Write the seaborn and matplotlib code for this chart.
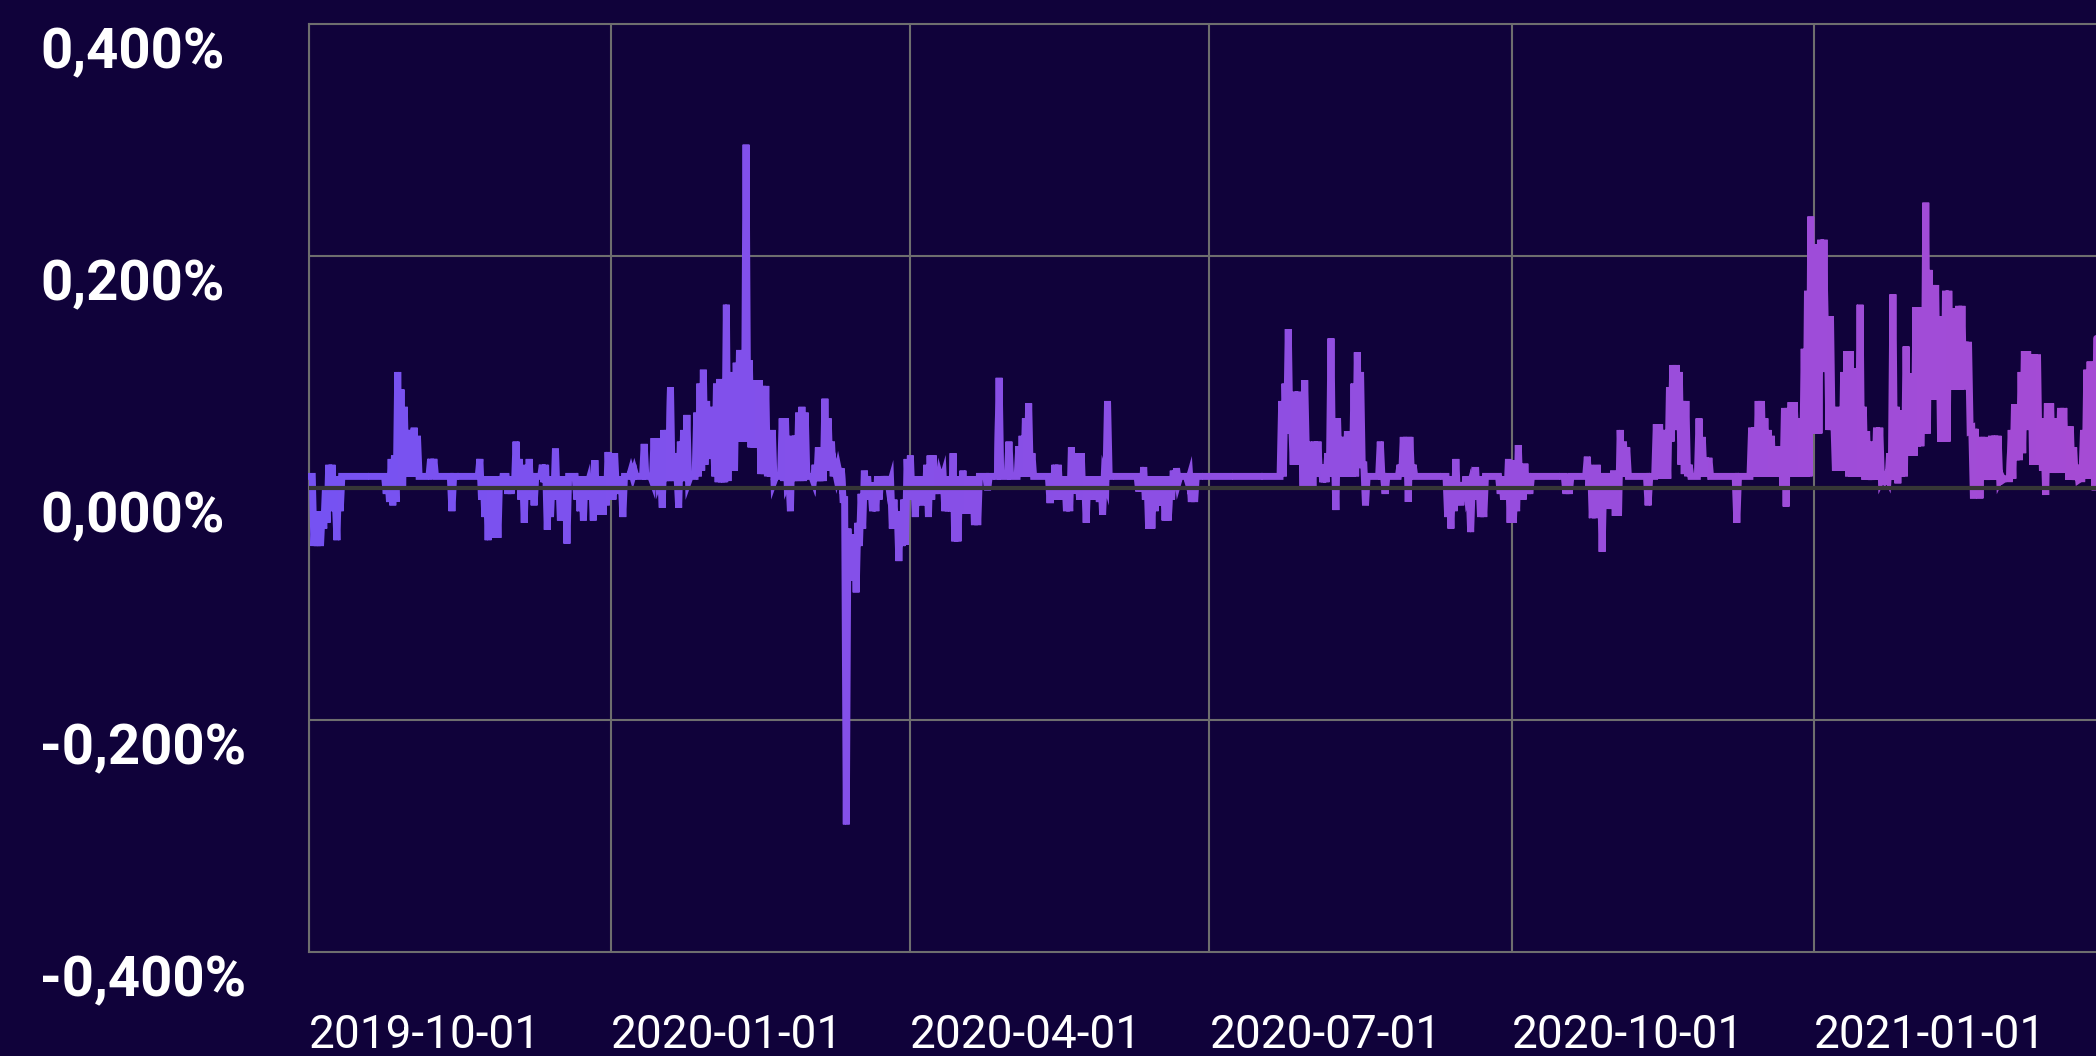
import pandas as pd
import matplotlib
matplotlib.use("Agg")
import matplotlib.pyplot as plt
import matplotlib.dates as mdates
import matplotlib.transforms as mtransforms
from matplotlib.patches import Rectangle
import matplotlib.colors as mcolors
import seaborn as sns

# daily high / low readings in %, one pair of lists per quarter
q4_2019_high = [
    0.01, 0.01, -0.02, -0.02, -0.02, 0.0, 0.02, 0.02, -0.01, 0.01,
    0.01, 0.01, 0.01, 0.01, 0.01, 0.01, 0.01, 0.01, 0.01, 0.01,
    0.01, 0.01, 0.01, 0.01, 0.01, 0.025, 0.028, 0.1, 0.085, 0.07,
    0.05, 0.05, 0.052, 0.045, 0.01, 0.01, 0.01, 0.025, 0.025, 0.01,
    0.01, 0.01, 0.01, 0.01, 0.01, 0.01, 0.01, 0.01, 0.01, 0.01,
    0.01, 0.01, 0.025, 0.01, 0.01, 0.01, 0.01, 0.0, 0.01, 0.01,
    0.01, 0.01, 0.01, 0.04, 0.025, 0.015, 0.02, 0.025, 0.01, 0.01,
    0.01, 0.02, 0.02, 0.01, 0.01, 0.034, 0.01, 0.005, 0.01, 0.01,
    0.01, 0.01, 0.01, 0.01, 0.01, 0.005, 0.01, 0.024, 0.01, 0.005,
    0.01, 0.031,
]
q4_2019_low = [
    0.01, -0.05, -0.05, -0.05, -0.035, -0.03, -0.02, -0.01, -0.045, -0.02,
    0.01, 0.01, 0.01, 0.01, 0.01, 0.01, 0.01, 0.01, 0.01, 0.01,
    0.01, 0.01, 0.01, -0.005, -0.012, -0.015, -0.012, 0.005, 0.0, 0.01,
    0.01, 0.01, 0.01, 0.01, 0.01, 0.01, 0.01, 0.01, 0.01, 0.01,
    0.01, 0.01, 0.01, -0.02, 0.01, 0.01, 0.01, 0.01, 0.01, 0.01,
    0.01, 0.01, -0.01, -0.025, -0.045, -0.01, -0.043, -0.043, 0.0, 0.01,
    -0.005, -0.005, 0.0, 0.0, -0.01, -0.03, -0.01, -0.005, -0.015, 0.01,
    0.01, 0.005, -0.036, -0.025, -0.01, -0.01, -0.028, -0.01, -0.048, 0.01,
    0.01, -0.01, -0.02, -0.028, 0.0, -0.01, -0.028, -0.01, -0.023, -0.023,
    -0.015, 0.0,
]
q1_2020_high = [
    0.03, 0.03, 0.01, 0.01, 0.01, 0.01, 0.015, 0.015, 0.01, 0.01,
    0.038, 0.01, 0.01, 0.043, 0.043, 0.01, 0.05, 0.05, 0.087, 0.03,
    0.01, 0.04, 0.05, 0.063, 0.01, 0.01, 0.065, 0.09, 0.102, 0.075,
    0.07, 0.05, 0.09, 0.094, 0.06, 0.158, 0.1, 0.06, 0.108, 0.119,
    0.11, 0.296, 0.11, 0.093, 0.093, 0.093, 0.088, 0.088, 0.02, 0.05,
    0.01, 0.01, 0.06, 0.06, 0.01, 0.045, 0.045, 0.065, 0.07, 0.065,
    0.01, 0.01, 0.02, 0.035, 0.03, 0.077, 0.06, 0.04, 0.017, 0.017,
    0.017, -0.01, -0.035, -0.04, -0.04, -0.03, -0.005, 0.015, 0.01, 0.0,
    0.005, 0.01, 0.01, 0.01, 0.01, 0.005, -0.01, -0.02, -0.02, -0.01,
    0.025,
]
q1_2020_low = [
    -0.01, 0.0, -0.005, -0.025, 0.01, 0.01, 0.01, 0.01, 0.01, 0.01,
    0.01, 0.01, 0.006, 0.006, 0.006, -0.017, 0.006, 0.006, 0.006, 0.01,
    -0.017, 0.006, 0.006, 0.006, 0.01, 0.01, 0.01, 0.015, 0.02, 0.025,
    0.026, 0.01, 0.005, 0.005, 0.005, 0.006, 0.015, 0.015, 0.04, 0.04,
    0.04, 0.05, 0.035, 0.035, 0.035, 0.012, 0.012, 0.01, 0.01, 0.006,
    0.01, 0.01, 0.006, 0.006, -0.02, 0.006, 0.006, 0.006, 0.006, 0.01,
    0.01, 0.006, 0.006, 0.006, 0.006, 0.015, 0.015, 0.01, 0.01, 0.01,
    -0.01, -0.29, -0.08, -0.06, -0.09, -0.05, -0.035, -0.01, -0.01, -0.02,
    -0.02, -0.01, 0.0, 0.0, 0.0, -0.035, -0.035, -0.063, -0.05, -0.049,
    -0.01,
]
q2_2020_high = [
    0.028, 0.01, 0.01, 0.01, 0.01, 0.02, 0.028, 0.028, 0.01, 0.01,
    0.01, 0.01, 0.01, 0.03, 0.01, 0.01, 0.015, 0.01, 0.01, 0.01,
    0.01, 0.01, 0.01, 0.01, 0.01, 0.01, 0.01, 0.095, 0.01, 0.01,
    0.04, 0.01, 0.01, 0.036, 0.045, 0.06, 0.073, 0.03, 0.01, 0.01,
    0.01, 0.01, 0.01, 0.01, 0.02, 0.02, 0.01, 0.01, 0.01, 0.035,
    0.03, 0.01, 0.03, 0.01, 0.01, 0.01, 0.01, 0.01, 0.01, 0.01,
    0.075, 0.01, 0.01, 0.01, 0.01, 0.01, 0.01, 0.01, 0.01, 0.01,
    0.01, 0.018, 0.01, 0.01, 0.01, 0.01, 0.01, 0.01, 0.005, 0.01,
    0.015, 0.017, 0.01, 0.01, 0.01, 0.01, 0.01, 0.01, 0.01, 0.01,
    0.01,
]
q2_2020_low = [
    -0.01, -0.025, -0.01, -0.015, -0.01, -0.025, -0.01, -0.005, -0.005, 0.005,
    -0.02, -0.02, -0.02, -0.046, -0.046, -0.022, -0.022, -0.022, -0.01, -0.032,
    -0.032, 0.01, 0.01, -0.002, 0.01, 0.01, 0.01, 0.01, 0.01, 0.01,
    0.01, 0.01, 0.01, 0.01, 0.01, 0.01, 0.01, 0.01, 0.01, 0.01,
    0.01, 0.01, -0.013, 0.0, -0.01, -0.007, -0.01, -0.02, -0.02, -0.005,
    0.0, -0.01, -0.01, -0.03, -0.01, -0.005, -0.01, -0.012, -0.023, 0.005,
    0.01, 0.01, 0.01, 0.01, 0.01, 0.01, 0.01, 0.01, 0.01, -0.003,
    -0.003, -0.01, -0.035, -0.035, -0.02, -0.015, -0.015, -0.028, -0.028, -0.01,
    0.0, 0.005, 0.01, 0.01, 0.005, -0.012, -0.012, 0.01, 0.01, 0.01,
    0.01,
]
q3_2020_high = [
    0.01, 0.01, 0.01, 0.01, 0.01, 0.01, 0.01, 0.01, 0.01, 0.01,
    0.01, 0.01, 0.01, 0.01, 0.01, 0.01, 0.01, 0.01, 0.01, 0.01,
    0.01, 0.01, 0.075, 0.09, 0.137, 0.06, 0.083, 0.083, 0.06, 0.093,
    0.04, 0.03, 0.04, 0.04, 0.02, 0.02, 0.03, 0.129, 0.03, 0.06,
    0.044, 0.044, 0.049, 0.049, 0.09, 0.117, 0.1, 0.02, 0.01, 0.01,
    0.01, 0.01, 0.04, 0.01, 0.01, 0.01, 0.01, 0.01, 0.02, 0.044,
    0.044, 0.044, 0.02, 0.01, 0.01, 0.01, 0.01, 0.01, 0.01, 0.01,
    0.01, 0.01, 0.01, 0.0, 0.01, 0.025, 0.0, 0.005, 0.01, 0.0,
    0.005, 0.018, 0.01, 0.0, 0.01, 0.01, 0.01, 0.01, 0.01, 0.01,
    0.01, 0.025,
]
q3_2020_low = [
    0.01, 0.01, 0.01, 0.01, 0.01, 0.01, 0.01, 0.01, 0.01, 0.01,
    0.01, 0.01, 0.01, 0.01, 0.01, 0.01, 0.01, 0.01, 0.01, 0.01,
    0.01, 0.01, 0.01, 0.047, 0.047, 0.02, 0.02, 0.02, 0.0, 0.03,
    0.0, 0.0, 0.01, 0.01, 0.005, 0.005, 0.01, 0.01, -0.019, 0.01,
    0.01, 0.01, 0.01, 0.01, 0.01, 0.04, 0.02, -0.015, 0.01, 0.01,
    0.01, 0.01, 0.01, -0.005, 0.01, 0.01, 0.01, 0.01, 0.01, 0.01,
    -0.012, 0.01, 0.01, 0.01, 0.01, 0.01, 0.01, 0.01, 0.01, 0.01,
    0.01, 0.01, -0.025, -0.035, -0.02, -0.01, -0.015, -0.01, -0.005, -0.038,
    -0.01, -0.01, -0.025, -0.025, 0.01, 0.01, 0.01, 0.01, -0.005, -0.01,
    -0.01, -0.03,
]
q4_2020_high = [
    0.024, 0.01, 0.037, 0.01, 0.021, 0.01, 0.01, 0.01, 0.01, 0.01,
    0.01, 0.01, 0.01, 0.01, 0.01, 0.01, 0.01, 0.01, 0.01, 0.01,
    0.01, 0.01, 0.01, 0.027, 0.02, 0.01, 0.02, 0.01, 0.01, 0.01,
    0.01, 0.015, 0.01, 0.05, 0.04, 0.035, 0.01, 0.01, 0.01, 0.01,
    0.01, 0.01, 0.01, 0.01, 0.055, 0.055, 0.05, 0.05, 0.087, 0.106,
    0.106, 0.1, 0.075, 0.075, 0.02, 0.01, 0.01, 0.06, 0.044, 0.026,
    0.026, 0.01, 0.01, 0.01, 0.01, 0.01, 0.01, 0.01, 0.01, 0.01,
    0.01, 0.01, 0.01, 0.052, 0.052, 0.075, 0.075, 0.06, 0.05, 0.045,
    0.036, 0.036, 0.036, 0.069, 0.069, 0.074, 0.074, 0.06, 0.06, 0.12,
    0.17, 0.234,
]
q4_2020_low = [
    -0.03, -0.02, -0.005, -0.01, -0.005, -0.005, 0.01, 0.01, 0.01, 0.01,
    0.01, 0.01, 0.01, 0.01, 0.01, 0.01, -0.005, -0.005, 0.01, 0.01,
    0.01, 0.01, 0.01, 0.0, -0.026, -0.026, -0.01, -0.055, 0.01, -0.018,
    -0.018, -0.024, -0.024, 0.01, 0.01, 0.01, 0.01, 0.01, 0.01, 0.01,
    0.01, -0.015, 0.01, 0.01, 0.01, 0.008, 0.008, 0.008, 0.04, 0.05,
    0.05, 0.02, 0.012, 0.01, 0.01, 0.01, 0.01, 0.01, 0.01, 0.01,
    0.01, 0.01, 0.01, 0.01, 0.01, 0.01, 0.01, 0.01, -0.03, 0.01,
    0.01, 0.01, 0.01, 0.01, 0.01, 0.01, 0.01, 0.01, 0.01, 0.01,
    0.01, 0.01, 0.0, -0.016, 0.01, 0.01, 0.01, 0.01, 0.01, 0.01,
    0.01, 0.047,
]
q1_2021_high = [
    0.21, 0.21, 0.214, 0.214, 0.148, 0.148, 0.06, 0.07, 0.04, 0.1,
    0.118, 0.118, 0.103, 0.103, 0.158, 0.07, 0.049, 0.03, 0.04, 0.052,
    0.052, 0.01, 0.01, 0.03, 0.167, 0.07, 0.067, 0.06, 0.122, 0.06,
    0.099, 0.156, 0.156, 0.1, 0.246, 0.188, 0.175, 0.175, 0.148, 0.148,
    0.17, 0.17, 0.142, 0.155, 0.157, 0.157, 0.126, 0.126, 0.051, 0.051,
    0.044, 0.044, 0.044, 0.038, 0.045, 0.045, 0.045, 0.01, 0.008, 0.008,
    0.05, 0.072, 0.072, 0.1, 0.118, 0.118, 0.115, 0.115, 0.115, 0.06,
    0.04, 0.073, 0.073, 0.06, 0.06, 0.069, 0.069, 0.053, 0.053, 0.035,
    0.02, 0.008, 0.05, 0.102, 0.109, 0.05, 0.129,
]
q1_2021_low = [
    0.047, 0.047, 0.1, 0.1, 0.05, 0.05, 0.015, 0.015, 0.015, 0.015,
    0.01, 0.01, 0.01, 0.01, 0.01, 0.007, 0.007, 0.007, 0.007, 0.007,
    0.007, 0.007, 0.007, 0.007, 0.01, 0.004, 0.01, 0.01, 0.028, 0.028,
    0.028, 0.036, 0.036, 0.047, 0.047, 0.076, 0.076, 0.076, 0.04, 0.04,
    0.04, 0.085, 0.085, 0.085, 0.085, 0.085, 0.09, 0.05, -0.009, 0.0,
    -0.009, 0.007, 0.007, 0.007, 0.007, 0.007, 0.007, 0.007, 0.008, 0.008,
    0.008, 0.024, 0.024, 0.03, 0.05, 0.05, 0.02, 0.02, 0.02, 0.015,
    -0.006, 0.013, 0.013, 0.013, 0.013, 0.013, 0.013, 0.007, 0.007, 0.007,
    0.007, 0.008, 0.008, 0.008, 0.008, -0.002, 0.02,
]

quarter_starts = ["2019-10-01", "2020-01-01", "2020-04-01",
                  "2020-07-01", "2020-10-01", "2021-01-01"]
highs = [q4_2019_high, q1_2020_high, q2_2020_high,
         q3_2020_high, q4_2020_high, q1_2021_high]
lows = [q4_2019_low, q1_2020_low, q2_2020_low,
        q3_2020_low, q4_2020_low, q1_2021_low]

tick_dates = ["2019-10-01", "2020-01-01", "2020-04-01",
              "2020-07-01", "2020-10-01", "2021-01-01"]
y_ticks = [0.4, 0.2, 0.0, -0.2, -0.4]
y_labels = ["0,400%", "0,200%", "0,000%", "-0,200%", "-0,400%"]
grid_y = [0.2, -0.2]

# high at midnight, low at noon -> two readings per day
frames = []
for start, hi, lo in zip(quarter_starts, highs, lows):
    days = pd.date_range(start, periods=len(hi), freq="D")
    frames.append(pd.DataFrame({"date": days, "value": hi}))
    frames.append(pd.DataFrame({"date": days + pd.Timedelta(hours=12), "value": lo}))
df = pd.concat(frames, ignore_index=True).sort_values("date")

BG = "#10023a"
GRID = "#6e6e6e"
C_LEFT = "#7652f2"
C_RIGHT = "#a54bd4"

sns.set_style("dark", {"axes.facecolor": BG, "figure.facecolor": BG})
plt.rcParams["font.family"] = ["Roboto", "DejaVu Sans"]

W, H = 2096, 1056
fig = plt.figure(figsize=(W / 100, H / 100), dpi=100)
ax = fig.add_axes([309 / W, 1 - 952 / H, 1 - 309 / W, (952 - 24) / H])

x_start = pd.Timestamp("2019-10-01")
x_end = x_start + pd.Timedelta(days=543.8)
n0 = mdates.date2num(x_start)
n1 = mdates.date2num(x_end)

# gradient line: same line drawn in narrow x bands, each clipped
n_bands = 60
band_w = (n1 - n0) / n_bands
c0 = mcolors.to_rgb(C_LEFT)
c1 = mcolors.to_rgb(C_RIGHT)
for i in range(n_bands):
    t = (i + 0.5) / n_bands
    col = tuple(a + (b - a) * t for a, b in zip(c0, c1))
    sns.lineplot(data=df, x="date", y="value", ax=ax, color=col,
                 linewidth=5, solid_joinstyle="miter", zorder=3, legend=False)
    line = ax.lines[-1]
    clip = Rectangle((n0 + i * band_w - band_w * 0.02, -1), band_w * 1.04, 2,
                     transform=ax.transData)
    line.set_clip_path(clip)

for y in grid_y:
    ax.axhline(y, color=GRID, lw=1.5, zorder=1)
ax.axhline(0, color="#363636", lw=3, zorder=4)

ax.set_xlim(x_start, x_end)
ax.set_ylim(-0.4, 0.4)
ax.set_xlabel("")
ax.set_ylabel("")

ax.set_xticks(pd.to_datetime(tick_dates))
ax.set_xticklabels(tick_dates)
ax.tick_params(axis="x", length=0, pad=44, labelsize=33, labelcolor="white")
plt.setp(ax.get_xticklabels(), ha="left")
ax.set_yticks([])

ax.set_axisbelow(True)
ax.xaxis.grid(True, color=GRID, lw=1.5)
ax.yaxis.grid(False)

for side in ["left", "top", "bottom"]:
    ax.spines[side].set_visible(True)
    ax.spines[side].set_color(GRID)
    ax.spines[side].set_linewidth(1.5)
ax.spines["right"].set_visible(False)

label_tr = mtransforms.offset_copy(
    mtransforms.blended_transform_factory(fig.transFigure, ax.transData),
    fig=fig, y=-3, units="dots")
for v, lab in zip(y_ticks, y_labels):
    ax.text(40 / W, v, lab, transform=label_tr, ha="left", va="top",
            color="white", fontsize=40.5, fontweight="bold")

fig.savefig("out.png", dpi=100, facecolor=BG)
